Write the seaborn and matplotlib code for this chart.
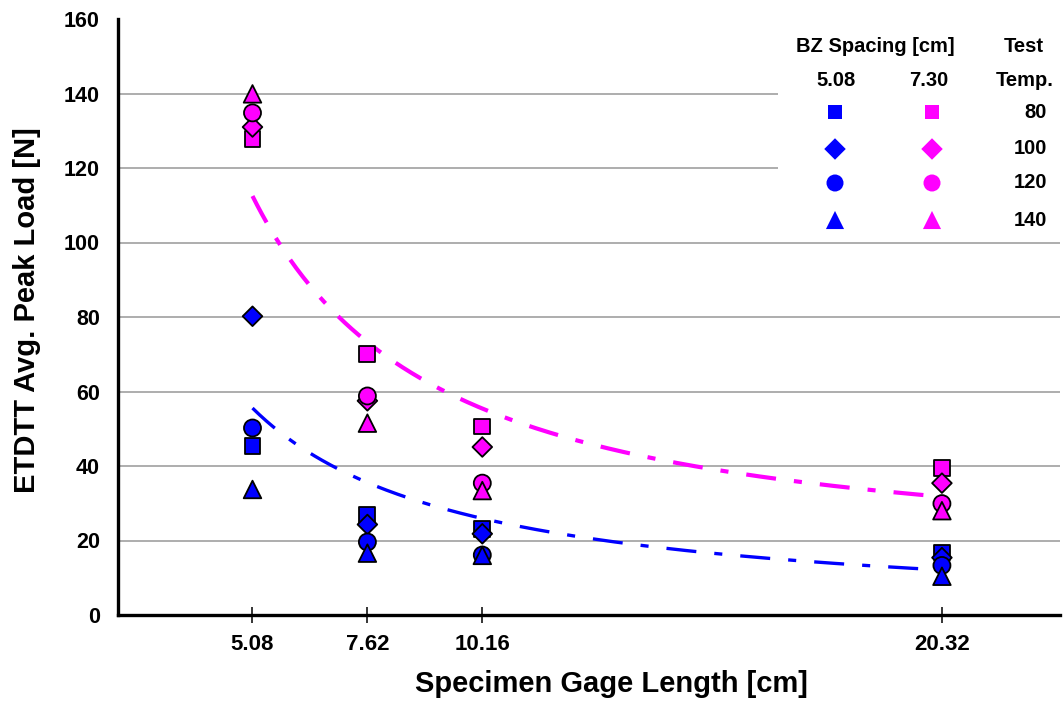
import numpy as np
import pandas as pd
import matplotlib
matplotlib.use("Agg")
import matplotlib.pyplot as plt
import seaborn as sns

# ---------------- data ----------------
gage_lengths = [5.08, 7.62, 10.16, 20.32]
temps = [80, 100, 120, 140]
spacings = [5.08, 7.30]

# peak loads [N], rows = temps (80,100,120,140), cols = gage lengths
load_bz508 = [
    [45.3, 26.8, 23.1, 16.8],   # 80
    [80.2, 24.3, 21.8, 15.4],   # 100
    [50.2, 19.6, 16.1, 13.3],   # 120
    [33.7, 16.6, 16.0, 10.4],   # 140
]
load_bz730 = [
    [127.8, 70.1, 50.6, 39.4],  # 80
    [131.0, 57.5, 45.1, 35.4],  # 100
    [134.8, 58.8, 35.4, 29.9],  # 120
    [139.9, 51.5, 33.4, 28.0],  # 140
]

# trendline coefficients: y = a * x**b + c
trend_bz508 = (332.0, -1.10, 0.0)
trend_bz730 = (768.0, -1.27, 15.0)

x_ticks = [5.08, 7.62, 10.16, 20.32]
x_tick_labels = ["5.08", "7.62", "10.16", "20.32"]
y_ticks = [0, 20, 40, 60, 80, 100, 120, 140, 160]

# ---------------- styling ----------------
sns.set_style("white")
plt.rcParams["font.family"] = ["Liberation Sans", "DejaVu Sans"]
plt.rcParams["font.weight"] = "bold"
plt.rcParams["lines.scale_dashes"] = False
for k in ("text.color", "axes.labelcolor", "xtick.color", "ytick.color"):
    plt.rcParams[k] = "black"

BLUE = "#0000FF"
MAGENTA = "#FF00FF"
palette = {5.08: BLUE, 7.30: MAGENTA}
marker_map = {80: "s", 100: "D", 120: "o", 140: "^"}
size_map = {80: 130, 100: 100, 120: 150, 140: 160}

rows = []
for ti, t in enumerate(temps):
    for sp, table in ((5.08, load_bz508), (7.30, load_bz730)):
        for gi, g in enumerate(gage_lengths):
            rows.append({"gage": g, "load": table[ti][gi], "spacing": sp, "temp": t})
df = pd.DataFrame(rows)

W, H = 1063, 702
fig = plt.figure(figsize=(W / 100, H / 100), dpi=100)
L, R, T, B = 118, 1060, 19, 615
ax = fig.add_axes([L / W, (H - B) / H, (R - L) / W, (B - T) / H])

# trend lines
for (a, b, c), col, lw in ((trend_bz730, MAGENTA, 3.0), (trend_bz508, BLUE, 2.4)):
    xs = np.linspace(gage_lengths[0], gage_lengths[-1], 300)
    ys = a * xs ** b + c
    sns.lineplot(x=xs, y=ys, ax=ax, color=col, linewidth=lw, zorder=3)
    ln = ax.get_lines()[-1]
    ln.set_dashes([21.6, 13.0, 5.8, 13.0])
    ln.set_dash_capstyle("butt")

sns.scatterplot(data=df, x="gage", y="load", hue="spacing", palette=palette,
                style="temp", markers=marker_map, size="temp", sizes=size_map,
                edgecolor="black", linewidth=1.3, legend=False, ax=ax, zorder=4)

ax.set_xlim(2.107, 22.93)
ax.set_ylim(0, 160)
ax.set_xticks(x_ticks)
ax.set_xticklabels(x_tick_labels)
ax.set_yticks(y_ticks)
ax.yaxis.grid(True, color="#A0A0A0", linewidth=1.2)
ax.xaxis.grid(False)
ax.set_axisbelow(True)
gl = ax.yaxis.get_gridlines()
gl[-1].set_visible(False)
gl[0].set_visible(False)

for s in ("top", "right"):
    ax.spines[s].set_visible(False)
for s in ("left", "bottom"):
    ax.spines[s].set_color("black")
    ax.spines[s].set_linewidth(2.4)
    ax.spines[s].set_zorder(5)

ax.tick_params(axis="x", direction="inout", length=11, width=1.1, color="black",
               labelsize=16, pad=8, bottom=True, labelcolor="black")
ax.tick_params(axis="y", length=0, labelsize=15.5, pad=13, left=True, labelcolor="black")
for lab in ax.get_xticklabels() + ax.get_yticklabels():
    lab.set_fontweight("bold")

ax.set_xlabel("Specimen Gage Length [cm]", fontsize=21, fontweight="bold", color="black")
ax.set_ylabel("ETDTT Avg. Peak Load [N]", fontsize=21, fontweight="bold", color="black")
ax.xaxis.label.set_va("center")
ax.yaxis.label.set_va("center")
ax.xaxis.set_label_coords((611 - L) / (R - L), (B - 684) / (B - T))
ax.yaxis.set_label_coords((27 - L) / (R - L), (B - 310) / (B - T))

# ---------------- custom legend table ----------------
def fx(px):
    return (px - L) / (R - L)

def fy(py):
    return (B - py) / (B - T)

ax.add_patch(plt.Rectangle((fx(778), fy(236)), 1.0 - fx(778), 1.0 - fy(236),
                           transform=ax.transAxes, facecolor="white",
                           edgecolor="none", zorder=2))
lf = 14.5
legend_texts = [
    (875, 47, "BZ Spacing [cm]"),
    (1024, 47, "Test"),
    (836, 80, "5.08"),
    (929, 80, "7.30"),
    (1025, 80, "Temp."),
]
for px, py, txt in legend_texts:
    ax.text(fx(px), fy(py), txt, transform=ax.transAxes, ha="center",
            va="center", fontsize=lf, fontweight="bold", color="black", zorder=6)

legend_rows_y = [112, 149, 183, 220]
legend_sizes = {80: 105, 100: 120, 120: 150, 140: 170}
for t, py in zip(temps, legend_rows_y):
    for sp, px in zip(spacings, (835, 932)):
        ax.scatter([fx(px)], [fy(py)], transform=ax.transAxes, marker=marker_map[t],
                   s=legend_sizes[t], color=palette[sp], edgecolors="none",
                   clip_on=False, zorder=6)
    ax.text(fx(1047), fy(py), str(t), transform=ax.transAxes, ha="right",
            va="center", fontsize=lf, fontweight="bold", color="black", zorder=6)

fig.savefig("out.png", dpi=100)
